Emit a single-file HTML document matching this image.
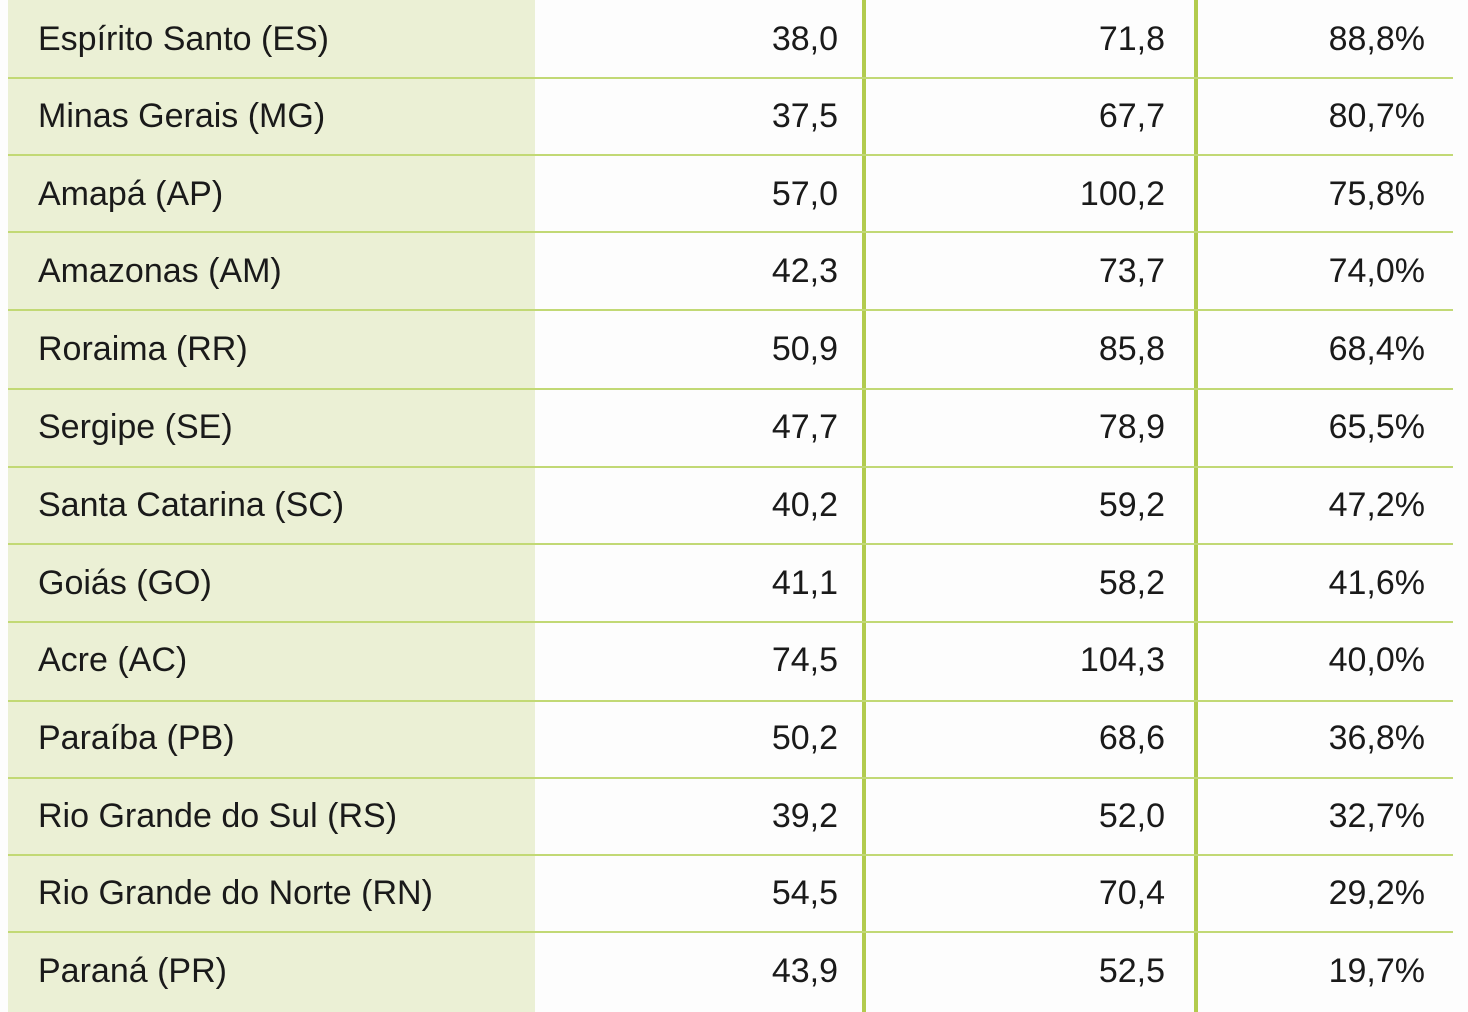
<!DOCTYPE html>
<html><head><meta charset="utf-8"><style>
body{margin:0;width:1468px;height:1012px;background:#fdfdfd;position:relative;overflow:hidden;font-family:"Liberation Sans",sans-serif;color:#1a1a1a}
.lb{position:absolute;left:8px;top:0;width:527px;height:1012px;background:#ebf0d5}
.h{position:absolute;left:8px;width:1445px;height:2px;background:#c2d975}
.v{position:absolute;top:0;width:4px;height:1012px;background:#b2cb4e}
.r{position:absolute;left:0;width:1468px;height:78px;font-size:34px;line-height:78px}
.r span{position:absolute;top:0}
.n{left:38px}
.a{right:630px}.b{right:303px}.c{right:43px}
</style></head><body>
<div class="lb"></div>
<div class="v" style="left:862px"></div>
<div class="v" style="left:1194px"></div>
<div class="h" style="top:77px"></div><div class="h" style="top:154px"></div><div class="h" style="top:231px"></div><div class="h" style="top:309px"></div><div class="h" style="top:388px"></div><div class="h" style="top:466px"></div><div class="h" style="top:543px"></div><div class="h" style="top:621px"></div><div class="h" style="top:700px"></div><div class="h" style="top:777px"></div><div class="h" style="top:854px"></div><div class="h" style="top:931px"></div>
<div class="r" style="top:0"><span class="n">Espírito Santo (ES)</span><span class="a">38,0</span><span class="b">71,8</span><span class="c">88,8%</span></div>
<div class="r" style="top:77px"><span class="n">Minas Gerais (MG)</span><span class="a">37,5</span><span class="b">67,7</span><span class="c">80,7%</span></div>
<div class="r" style="top:155px"><span class="n">Amapá (AP)</span><span class="a">57,0</span><span class="b">100,2</span><span class="c">75,8%</span></div>
<div class="r" style="top:232px"><span class="n">Amazonas (AM)</span><span class="a">42,3</span><span class="b">73,7</span><span class="c">74,0%</span></div>
<div class="r" style="top:310px"><span class="n">Roraima (RR)</span><span class="a">50,9</span><span class="b">85,8</span><span class="c">68,4%</span></div>
<div class="r" style="top:388px"><span class="n">Sergipe (SE)</span><span class="a">47,7</span><span class="b">78,9</span><span class="c">65,5%</span></div>
<div class="r" style="top:466px"><span class="n">Santa Catarina (SC)</span><span class="a">40,2</span><span class="b">59,2</span><span class="c">47,2%</span></div>
<div class="r" style="top:544px"><span class="n">Goiás (GO)</span><span class="a">41,1</span><span class="b">58,2</span><span class="c">41,6%</span></div>
<div class="r" style="top:621px"><span class="n">Acre (AC)</span><span class="a">74,5</span><span class="b">104,3</span><span class="c">40,0%</span></div>
<div class="r" style="top:699px"><span class="n">Paraíba (PB)</span><span class="a">50,2</span><span class="b">68,6</span><span class="c">36,8%</span></div>
<div class="r" style="top:777px"><span class="n">Rio Grande do Sul (RS)</span><span class="a">39,2</span><span class="b">52,0</span><span class="c">32,7%</span></div>
<div class="r" style="top:854px"><span class="n">Rio Grande do Norte (RN)</span><span class="a">54,5</span><span class="b">70,4</span><span class="c">29,2%</span></div>
<div class="r" style="top:932px"><span class="n">Paraná (PR)</span><span class="a">43,9</span><span class="b">52,5</span><span class="c">19,7%</span></div>
</body></html>
